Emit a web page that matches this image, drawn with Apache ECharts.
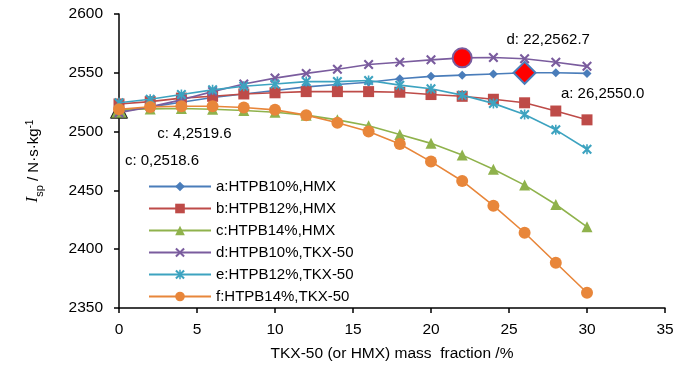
<!DOCTYPE html>
<html>
<head>
<meta charset="utf-8">
<script src="https://cdn.jsdelivr.net/npm/echarts@6/dist/echarts.min.js"></script>
<style>html,body{margin:0;padding:0;background:#fff;}#c{width:700px;height:374px;}</style>
</head>
<body>
<div id="c"></div>
<script>
const xValues = [0, 2, 4, 6, 8, 10, 12, 14, 16, 18, 20, 22, 24, 26, 28, 30];
const seriesNames = ['a:HTPB10%,HMX', 'b:HTPB12%,HMX', 'c:HTPB14%,HMX', 'd:HTPB10%,TKX-50', 'e:HTPB12%,TKX-50', 'f:HTPB14%,TKX-50'];
const aValues = [2517, 2521, 2525, 2529, 2532, 2535, 2538, 2540, 2542, 2545, 2547, 2548, 2549, 2550.0, 2550, 2549.5];
const bValues = [2523.5, 2525.5, 2528.5, 2530, 2532, 2533, 2534, 2534, 2534, 2533.5, 2531.5, 2530, 2527.5, 2524.5, 2517.5, 2510];
const cValues = [2518.6, 2519.3, 2519.6, 2519, 2518, 2516.5, 2514, 2510, 2505, 2497.5, 2490, 2480, 2468, 2454.5, 2438, 2419];
const dValues = [2516, 2521, 2527, 2534, 2540.5, 2545.5, 2549.5, 2553, 2557, 2559, 2561, 2562.7, 2563, 2562, 2559, 2555.5];
const eValues = [2524.5, 2527.5, 2531.5, 2535.5, 2538.5, 2540.5, 2542.5, 2542.5, 2543.5, 2539.5, 2536.5, 2531, 2524, 2514.5, 2501.5, 2485];
const fValues = [2519, 2521, 2521.5, 2521.5, 2520.5, 2518.5, 2514, 2507.5, 2500, 2489.5, 2474.5, 2458, 2437, 2414, 2388.5, 2363];
const yTicks = [2350, 2400, 2450, 2500, 2550, 2600];
const xTicks = [0, 5, 10, 15, 20, 25, 30, 35];

const FONT = 'Liberation Sans, Arial, sans-serif';
const colors = ['#4A7DBA', '#BE4B48', '#8FB24C', '#7A5C9E', '#3DA3C0', '#E8863A'];
const xPath = 'path://M0,1.5L1.5,0L5,3.5L8.5,0L10,1.5L6.5,5L10,8.5L8.5,10L5,6.5L1.5,10L0,8.5L3.5,5Z';
const starPath = 'path://M0,1.5L1.5,0L4.2,2.7L4.2,0L5.8,0L5.8,2.7L8.5,0L10,1.5L6.5,5L10,8.5L8.5,10L5.8,7.3L5.8,10L4.2,10L4.2,7.3L1.5,10L0,8.5L3.5,5Z';
const symbols = ['diamond', 'rect', 'triangle', xPath, starPath, 'circle'];
const sizes = [9, 11, 11, 10, 10, 12];
const allValues = [aValues, bValues, cValues, dValues, eValues, fValues];

const highlights = [
  {s: 3, x: 22, offset: [86, -18], symbol: 'circle', size: 19, fill: '#FF0000', border: '#7A5C9E', bw: 2},
  {s: 0, x: 26, offset: [78, 21], symbol: 'diamond', size: 22, fill: '#FF0000', border: '#4A7DBA', bw: 2},
  {s: 2, x: 4, offset: [13, 25]},
  {s: 2, x: 0, offset: [43, 51], symbol: 'triangle', size: 17, fill: '#8FB24C', border: '#1a1a1a', bw: 1}
];

const series = allValues.map((vals, si) => {
  const letter = seriesNames[si].charAt(0);
  const data = xValues.map((x, i) => {
    const h = highlights.find(hh => hh.s === si && hh.x === x);
    if (!h) return [x, vals[i]];
    const item = {
      value: [x, vals[i]],
      label: {
        show: true, position: 'inside', offset: h.offset, color: '#000',
        fontSize: 15, fontFamily: FONT,
        formatter: letter + ': ' + x + ',' + vals[i].toFixed(1)
      }
    };
    if (h.symbol) {
      item.symbol = h.symbol;
      item.symbolSize = h.size;
      item.itemStyle = {color: h.fill, borderColor: h.border, borderWidth: h.bw};
    }
    return item;
  });
  return {
    name: seriesNames[si],
    type: 'line',
    data: data,
    symbol: symbols[si],
    symbolSize: sizes[si],
    showAllSymbol: true,
    lineStyle: {width: 1.6, color: colors[si]},
    itemStyle: {color: colors[si]},
    animation: false,
    z: 2 + si
  };
});

const chart = echarts.init(document.getElementById('c'), null, {renderer: 'canvas'});
chart.setOption({
  animation: false,
  color: colors,
  textStyle: {fontFamily: FONT, color: '#000'},
  grid: {left: 119, right: 35, top: 14, bottom: 66, containLabel: false},
  legend: {
    show: true, orient: 'vertical', left: 143, top: 174,
    itemWidth: 62, itemHeight: 12, itemGap: 7,
    textStyle: {fontSize: 15, color: '#000', fontFamily: FONT},
    data: seriesNames
  },
  xAxis: {
    type: 'value', min: xTicks[0], max: xTicks[xTicks.length - 1], interval: 5,
    name: 'TKX-50 (or HMX) mass  fraction /%', nameLocation: 'middle', nameGap: 38,
    nameTextStyle: {fontSize: 15.5, color: '#000'},
    axisLine: {show: true, onZero: false, lineStyle: {color: '#000', width: 1.5}},
    axisTick: {show: true, inside: false, length: 5, lineStyle: {color: '#000', width: 1.5}},
    axisLabel: {fontSize: 15.5, color: '#000', margin: 14},
    splitLine: {show: false}
  },
  yAxis: {
    type: 'value', min: yTicks[0], max: yTicks[yTicks.length - 1], interval: 50,
    name: '{i|I}{sub|sp}{n| / N·s·kg}{sup|-1}', nameLocation: 'middle', nameGap: 78, nameRotate: 90,
    nameTextStyle: {
      fontSize: 15, color: '#000',
      rich: {
        i: {fontSize: 17, fontStyle: 'italic', fontFamily: 'Liberation Serif, Times New Roman, serif', color: '#000', lineHeight: 18, verticalAlign: 'bottom'},
        sub: {fontSize: 11, color: '#000', lineHeight: 18, verticalAlign: 'bottom', padding: [0, 0, -4, 0]},
        n: {fontSize: 15, color: '#000', lineHeight: 18, verticalAlign: 'bottom'},
        sup: {fontSize: 10, color: '#000', lineHeight: 18, verticalAlign: 'top', padding: [2, 0, 0, 0]}
      }
    },
    axisLine: {show: true, lineStyle: {color: '#000', width: 1.5}},
    axisTick: {show: true, inside: false, length: 5, lineStyle: {color: '#000', width: 1.5}},
    axisLabel: {fontSize: 15.5, color: '#000', margin: 16, formatter: v => String(v)},
    splitLine: {show: false}
  },
  series: series
});
</script>
</body>
</html>
